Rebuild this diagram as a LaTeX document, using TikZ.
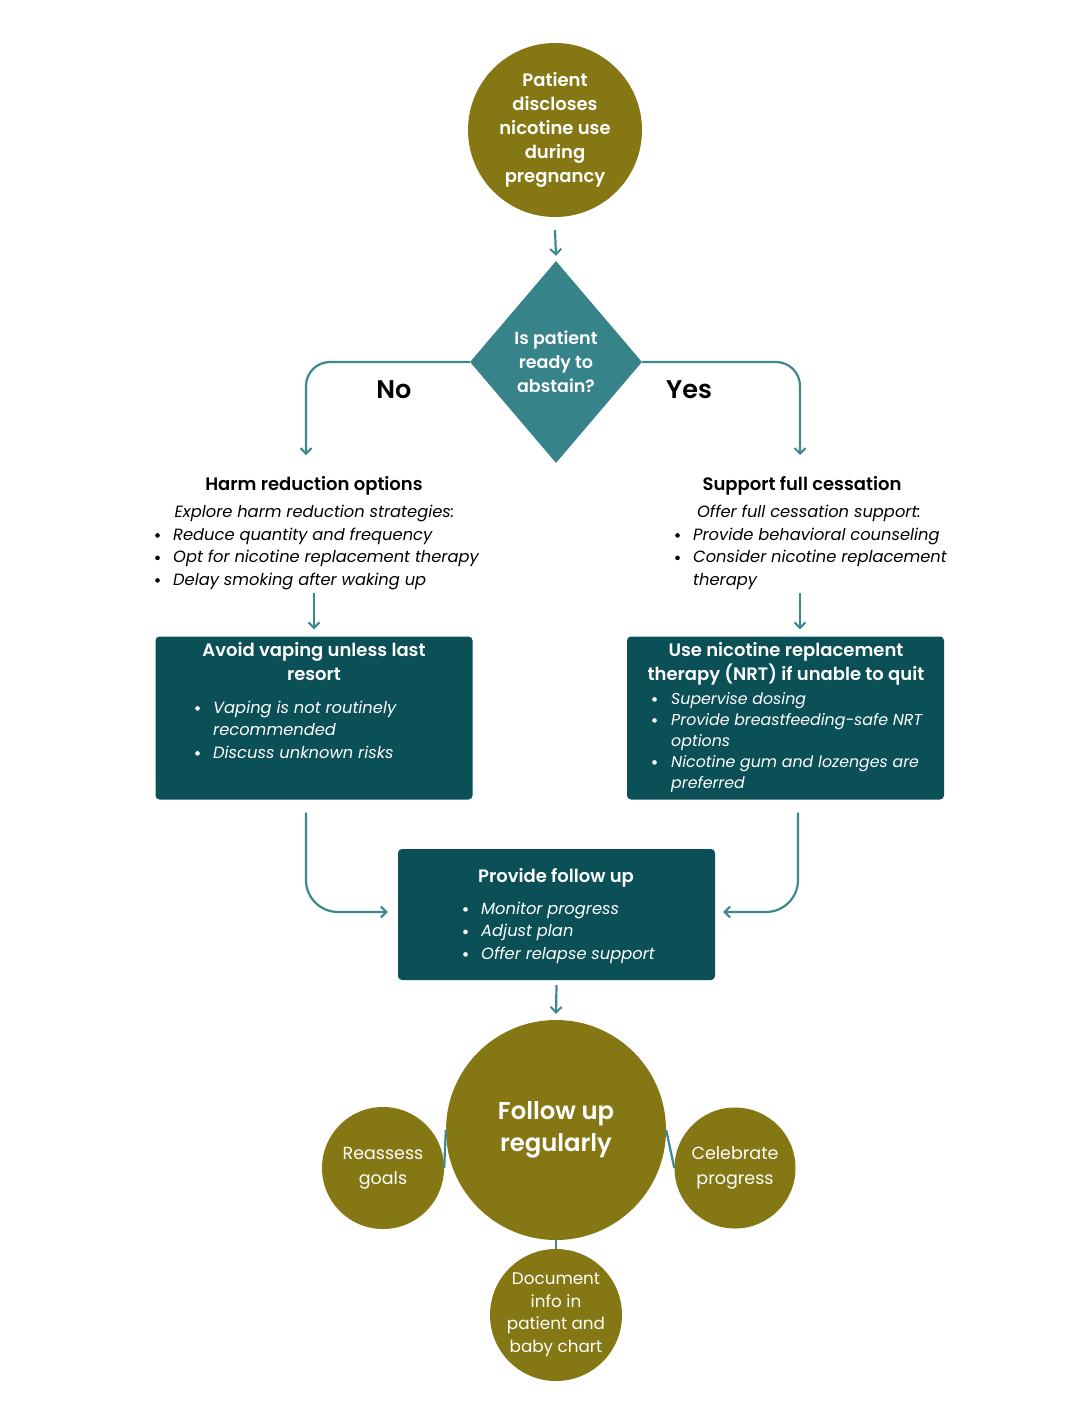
\documentclass[tikz,border=0pt]{standalone}
\usepackage{fontspec}
\setmainfont{Poppins}[BoldFont={Poppins SemiBold}]
\usetikzlibrary{arrows.meta,shapes.geometric,calc}
\definecolor{olivefill}{HTML}{847714}
\definecolor{boxteal}{HTML}{0B5057}
\definecolor{diateal}{HTML}{36838A}
\definecolor{lineteal}{HTML}{3B898F}
\newcommand{\vblock}[3]{\vtop{\hsize=#1\relax\parskip=0pt\parindent=0pt#2#3\par}}
\newcommand{\bdot}{\tikz[baseline=0pt,x=1pt,y=1pt]\fill (3,4.6) circle (2.3pt);}
\newcommand{\bitem}[2][15pt]{\par\hangindent=#1\hangafter=1\noindent\hbox to #1{\bdot\hss}#2\par}
\tikzset{
  conn/.style={draw=lineteal, line width=2.2pt, -{Straight Barb[length=5.5pt,width=11pt,line width=2pt]}},
  link/.style={draw=lineteal, line width=2.2pt},
  olivecircle/.style={circle, fill=olivefill, inner sep=0pt, text=white, align=center},
  tealbox/.style={rectangle, fill=boxteal, rounded corners=4pt, inner sep=0pt},
  txt/.style={inner sep=0pt, anchor=base west},
  ctxt/.style={inner sep=0pt, anchor=base},
  body/.style={font=\itshape\fontsize{16.3}{22.5}\selectfont},
  head/.style={font=\bfseries\fontsize{18}{24}\selectfont},
}
\begin{document}
\begin{tikzpicture}[x=1pt,y=-1pt]
\fill[white] (0,0) rectangle (1083,1402);
\useasboundingbox (0,0) rectangle (1083,1402);

% start circle
\node[olivecircle, minimum size=174pt, font=\bfseries\fontsize{18}{24}\selectfont] (start) at (555,130)
  {Patient\\discloses\\nicotine use\\during\\pregnancy};

% decision diamond
\node[diamond, fill=diateal, minimum width=172pt, minimum height=202pt, inner sep=0pt,
  text=white, align=center, font=\bfseries\fontsize{17.5}{24}\selectfont] (dec) at (556,362)
  {Is patient\\ready to\\abstain?};

\node[inner sep=0pt, font=\bfseries\fontsize{25.5}{28}\selectfont] (no) at (394,390) {No};
\node[inner sep=0pt, font=\bfseries\fontsize{25.5}{28}\selectfont] (yes) at (689,390) {Yes};

\coordinate (noEnd) at (306,455);
\coordinate (yesEnd) at (800,455);

% left text block
\node[ctxt, head] (harmhead) at (314,490) {Harm reduction options};
\node[ctxt, body] (harmintro) at (314.5,517) {Explore harm reduction strategies:};
\node[txt, body] (harmlist) at (155,540) {\vblock{360pt}{\raggedright}{%
  \bitem[18pt]{Reduce quantity and frequency}%
  \bitem[18pt]{Opt for nicotine replacement therapy}%
  \bitem[18pt]{Delay smoking after waking up}}};

% right text block
\node[ctxt, head] (cesshead) at (802,490) {Support full cessation};
\node[ctxt, body] (cessintro) at (809,517) {Offer full cessation support:};
\node[txt, body] (cesslist) at (675,540) {\vblock{300pt}{\raggedright}{%
  \bitem[18pt]{Provide behavioral counseling}%
  \bitem[18pt]{Consider nicotine replacement\newline therapy}}};

% left box
\node[tealbox, minimum width=317pt, minimum height=163pt] (lbox) at (314,718) {};
\node[ctxt, head, text=white] (ltitle) at (314,656) {\vblock{310pt}{\centering}{Avoid vaping unless last\\resort}};
\node[txt, body, text=white] (llist) at (195,713) {\vblock{270pt}{\raggedright}{%
  \bitem[18pt]{Vaping is not routinely\newline recommended}%
  \bitem[18pt]{Discuss unknown risks}}};

% right box
\node[tealbox, minimum width=317pt, minimum height=163pt] (rbox) at (785.5,718) {};
\node[ctxt, head, text=white] (rtitle) at (786,656) {\vblock{316pt}{\centering}{Use nicotine replacement\\therapy (NRT) if unable to quit}};
\node[txt, text=white, font=\itshape\fontsize{15.8}{21}\selectfont] (rlist) at (652,704) {\vblock{290pt}{\raggedright}{%
  \bitem[19pt]{Supervise dosing}%
  \bitem[19pt]{Provide breastfeeding-safe NRT\newline options}%
  \bitem[19pt]{Nicotine gum and lozenges are\newline preferred}}};

% follow-up box
\node[tealbox, minimum width=317pt, minimum height=131pt] (fbox) at (556.5,914.5) {};
\node[ctxt, head, text=white] (ftitle) at (556,882) {Provide follow up};
\node[txt, body, text=white] (flist) at (463,914) {\vblock{240pt}{\raggedright}{%
  \bitem[18pt]{Monitor progress}%
  \bitem[18pt]{Adjust plan}%
  \bitem[18pt]{Offer relapse support}}};

% bottom circles
\node[olivecircle, minimum size=220pt, font=\bfseries\fontsize{24.3}{32}\selectfont] (big) at (556,1130) {Follow up\\regularly};
\node[olivecircle, minimum size=122pt, font=\fontsize{17.5}{25}\selectfont] (reg) at (383,1168) {Reassess\\goals};
\node[olivecircle, minimum size=121pt, font=\fontsize{17.5}{25}\selectfont] (cel) at (735,1168) {Celebrate\\progress};
\node[olivecircle, minimum size=132pt, font=\fontsize{16.8}{22.5}\selectfont] (doc) at (556,1315) {Document\\info in\\patient and\\baby chart};

% connectors
\draw[conn] ([yshift=-13pt]start.south) -- ([yshift=5pt]dec.north);
\draw[conn, rounded corners=24pt] (dec.west) -| (noEnd);
\draw[conn, rounded corners=24pt] (dec.east) -| (yesEnd);
\draw[conn] ([yshift=43pt]lbox.north) -- ([yshift=7pt]lbox.north);
\draw[conn] ([xshift=14.5pt,yshift=43pt]rbox.north) -- ([xshift=14.5pt,yshift=7pt]rbox.north);
\draw[conn, rounded corners=32pt] ([xshift=-8pt,yshift=-13pt]lbox.south) |- ([xshift=-10pt,yshift=2.5pt]fbox.west);
\draw[conn, rounded corners=32pt] ([xshift=12.5pt,yshift=-13pt]rbox.south) |- ([xshift=8pt,yshift=2.5pt]fbox.east);
\draw[conn] ([yshift=-5pt]fbox.south) -- ([yshift=6pt]big.north);
\draw[link] (big.west) -- (reg.east);
\draw[link] (big.east) -- (cel.west);
\draw[link] (big.south) -- (doc.north);
\end{tikzpicture}
\end{document}
